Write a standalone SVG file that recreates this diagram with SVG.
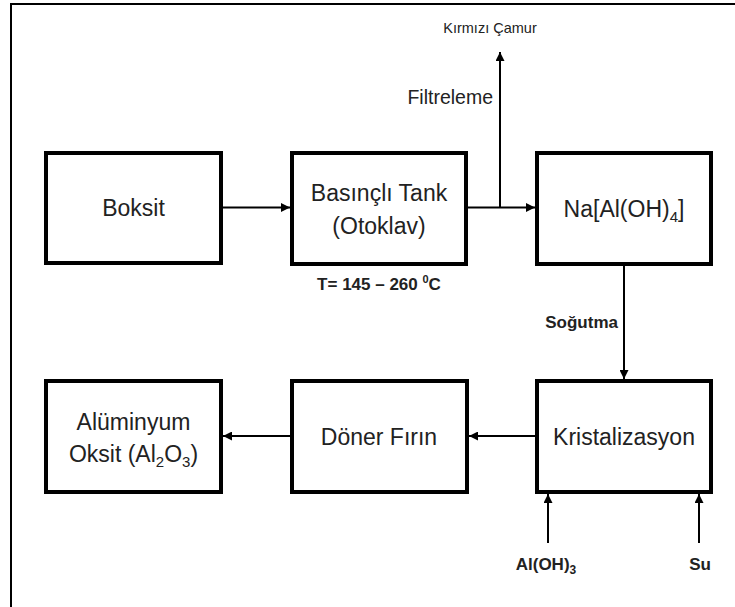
<svg xmlns="http://www.w3.org/2000/svg" width="735" height="607" viewBox="0 0 735 607">
<style>
.box{fill:#fff;stroke:#000;stroke-width:4}
.lbl{font-family:"Liberation Sans",Arial,sans-serif;font-size:23px;fill:#222;text-anchor:middle}
.bold{font-family:"Liberation Sans",Arial,sans-serif;font-size:17px;font-weight:bold;fill:#222}
.small{font-family:"Liberation Sans",Arial,sans-serif;fill:#222}
.con{stroke:#000;stroke-width:2;fill:none;marker-end:url(#arr)}
</style>
<defs>
<marker id="arr" viewBox="0 0 10 10" refX="10" refY="5" markerWidth="9" markerHeight="9" markerUnits="userSpaceOnUse" orient="auto">
<path d="M0,0 L10,5 L0,10 z" fill="#000"/>
</marker>
</defs>
<rect width="735" height="607" fill="#fff"/>
<g id="frame">
<path d="M11,608 L11,4 L736,4" stroke="#000" stroke-width="2" fill="none"/>
</g>
<g id="connectors">
<line class="con" x1="223" y1="207.5" x2="290" y2="207.5"/>
<line class="con" x1="468" y1="207.5" x2="535" y2="207.5"/>
<line class="con" x1="500" y1="207.5" x2="500" y2="52"/>
<line class="con" x1="624" y1="266" x2="624" y2="379"/>
<line class="con" x1="535" y1="436" x2="469" y2="436"/>
<line class="con" x1="290" y1="436" x2="223" y2="436"/>
<line class="con" x1="548" y1="543" x2="548" y2="494"/>
<line class="con" x1="699" y1="543" x2="699" y2="494"/>
</g>
<g id="boksit">
<rect class="box" x="46" y="153" width="175" height="110"/>
<text class="lbl" x="133.5" y="216">Boksit</text>
</g>
<g id="tank">
<rect class="box" x="292" y="153" width="174" height="111"/>
<text class="lbl" x="379" y="201">Basınçlı Tank</text>
<text class="lbl" x="379" y="234">(Otoklav)</text>
</g>
<g id="na">
<rect class="box" x="537" y="153" width="174" height="111"/>
<text class="lbl" x="624" y="217">Na[Al(OH)<tspan font-size="15" dy="5">4</tspan><tspan dy="-5">]</tspan></text>
</g>
<g id="kristal">
<rect class="box" x="537" y="381" width="174" height="111"/>
<text class="lbl" x="624" y="445">Kristalizasyon</text>
</g>
<g id="doner">
<rect class="box" x="292" y="381" width="175" height="111"/>
<text class="lbl" x="379" y="445">Döner Fırın</text>
</g>
<g id="aluminyum">
<rect class="box" x="46" y="381" width="175" height="111"/>
<text class="lbl" x="133.5" y="430">Alüminyum</text>
<text class="lbl" x="133.5" y="462">Oksit (Al<tspan font-size="15" dy="5">2</tspan><tspan dy="-5">O</tspan><tspan font-size="15" dy="5">3</tspan><tspan dy="-5">)</tspan></text>
</g>
<g id="labels">
<text class="small" x="490" y="33" font-size="14.5" text-anchor="middle">Kırmızı Çamur</text>
<text class="small" x="493" y="104" font-size="19.5" text-anchor="end">Filtreleme</text>
<text class="bold" x="379" y="290" text-anchor="middle">T= 145 – 260 <tspan font-size="11" dy="-7">0</tspan><tspan dy="7">C</tspan></text>
<text class="bold" x="618" y="328" text-anchor="end">Soğutma</text>
<text class="bold" x="546" y="570" text-anchor="middle">Al(OH)<tspan font-size="12" dy="4">3</tspan></text>
<text class="bold" x="700" y="570" text-anchor="middle">Su</text>
</g>
</svg>
